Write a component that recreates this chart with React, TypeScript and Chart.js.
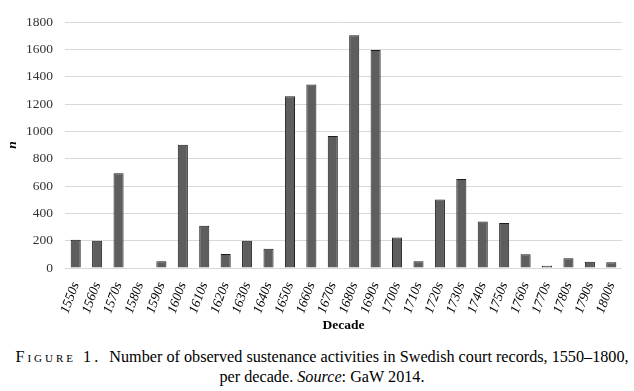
import React, { useEffect, useRef } from "react";
import { Chart, registerables } from "chart.js";

Chart.register(...registerables);

const decades = [
  "1550s", "1560s", "1570s", "1580s", "1590s", "1600s", "1610s", "1620s", "1630s",
  "1640s", "1650s", "1660s", "1670s", "1680s", "1690s", "1700s", "1710s", "1720s",
  "1730s", "1740s", "1750s", "1760s", "1770s", "1780s", "1790s", "1800s",
];
const counts = [
  207, 200, 693, 0, 49, 902, 310, 103, 200, 141, 1256, 1343, 966, 1703, 1595, 224,
  49, 502, 651, 341, 329, 100, 17, 71, 46, 42,
];
const yMax = 1800;
const yStep = 200;

const SERIF = "'Liberation Serif', 'Times New Roman', serif";

export default function App() {
  const ref = useRef<HTMLCanvasElement | null>(null);
  useEffect(() => {
    document.body.style.margin = "0";
    const chart = new Chart(ref.current as HTMLCanvasElement, {
      type: "bar",
      data: {
        labels: decades,
        datasets: [
          {
            data: counts,
            backgroundColor: "#5e5e5e",
            borderColor: "#1c1c1c",
            borderWidth: 1,
            barPercentage: 0.47,
            categoryPercentage: 1,
          },
        ],
      },
      options: {
        animation: false,
        responsive: false,
        maintainAspectRatio: false,
        layout: { padding: { top: 22, right: 12, bottom: 0, left: 0 } },
        plugins: { legend: { display: false }, tooltip: { enabled: false } },
        scales: {
          x: {
            grid: { display: false },
            border: { display: false },
            ticks: {
              autoSkip: false,
              minRotation: 70,
              maxRotation: 70,
              padding: 4,
              color: "#000",
              font: { family: SERIF, size: 13.5, style: "italic" },
            },
            title: {
              display: true,
              text: "Decade",
              color: "#000",
              padding: { top: 0, bottom: 6 },
              font: { family: SERIF, size: 13.5, weight: "bold" },
            },
            afterFit: (s: any) => {
              s.height = 72;
            },
          },
          y: {
            min: 0,
            max: yMax,
            grid: { color: "#d9d9d9", lineWidth: 1, drawTicks: false },
            border: { display: false },
            ticks: {
              stepSize: yStep,
              padding: 12,
              color: "#333",
              font: { family: SERIF, size: 13.5 },
              callback: (v: any) => String(v),
            },
            title: {
              display: true,
              text: "n",
              color: "#000",
              padding: { top: 4, bottom: 0 },
              font: { family: SERIF, size: 13.5, weight: "bold", style: "italic" },
            },
            afterFit: (s: any) => {
              s.width = 65;
            },
          },
        },
      },
    });
    return () => chart.destroy();
  }, []);

  return (
    <div style={{ position: "relative", width: 634, height: 391, background: "#fff" }}>
      <canvas ref={ref} width={634} height={340} style={{ display: "block" }} />
      <div
        style={{
          position: "absolute",
          top: 347,
          left: 0,
          width: 644,
          textAlign: "center",
          fontFamily: SERIF,
          fontSize: 16.2,
          lineHeight: "20px",
          color: "#000",
          whiteSpace: "nowrap",
        }}
      >
        <span style={{ fontVariant: "small-caps", letterSpacing: "3px" }}>Figure 1.</span>
        {"\u00a0 Number of observed sustenance activities in Swedish court records, 1550–1800,"}
        <br />
        per decade. <i>Source</i>: GaW 2014.
      </div>
    </div>
  );
}
